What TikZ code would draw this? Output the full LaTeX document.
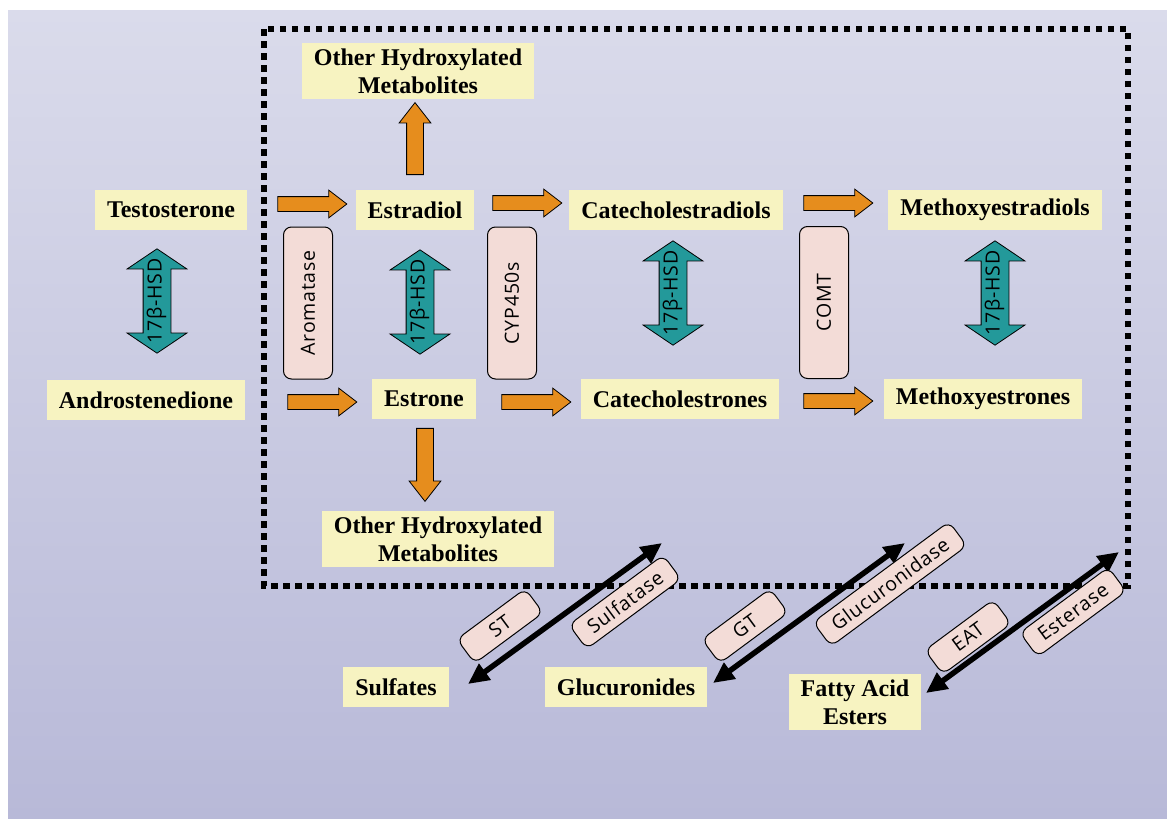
\documentclass[tikz,border=0pt]{standalone}
\usepackage{fontspec}
\setmainfont{Liberation Serif}
\newfontfamily\enzfont[LetterSpace=4]{Open Sans}
\usepackage{xcolor}
\usepackage{tikz}
\usetikzlibrary{arrows.meta,shapes.arrows}
\definecolor{BGTop}{HTML}{DADBEB}
\definecolor{BGBottom}{HTML}{B8B9D8}
\definecolor{MetYellow}{HTML}{F7F3C1}
\definecolor{EnzPink}{HTML}{F3DCD7}
\definecolor{HsdTeal}{HTML}{23999A}
\definecolor{FlowOrange}{HTML}{E68D1D}
\tikzset{
  metab/.style={fill=MetYellow, inner xsep=12pt, inner ysep=6pt, minimum height=40pt,
    font=\fontsize{24}{28}\selectfont\bfseries, align=center},
  enzyme/.style={draw, line width=1pt, fill=EnzPink, rounded corners=8pt,
    font=\enzfont\fontsize{19.5}{22}\selectfont, inner xsep=14pt},
  enzvert/.style={enzyme, rotate=90, minimum width=152pt, minimum height=49pt},
  enzdiag/.style={enzyme, rotate=36.5, minimum width=85pt, minimum height=30pt},
  flow/.style={single arrow, draw, line width=0.8pt, fill=FlowOrange, inner xsep=0pt,
    inner ysep=7pt, single arrow head extend=6.5pt, single arrow tip angle=75,
    minimum width=27pt, minimum height=69pt},
  flowvert/.style={flow, inner ysep=8pt, single arrow head extend=7.5pt,
    single arrow tip angle=76, minimum width=31pt},
  hsd/.style={double arrow, draw, line width=0.8pt, fill=HsdTeal, rotate=90,
    font=\enzfont\fontsize{19.5}{22}\selectfont, inner xsep=0pt, inner ysep=6pt,
    text height=12pt, text depth=3pt, minimum height=100pt, minimum width=59pt,
    double arrow head extend=16pt, double arrow tip angle=112},
  conj/.style={line width=5.5pt, {Triangle[length=21pt,width=19pt]}-{Triangle[length=21pt,width=19pt]}}
}
\begin{document}
\begin{tikzpicture}[x=1pt, y=-1pt]
\useasboundingbox (0,0) rectangle (1167,819);
\fill[white] (0,0) rectangle (1167,819);
\shade[top color=BGTop, bottom color=BGBottom] (8,10) rectangle (1167,819);

% dotted frame round the estrogen metabolism
\draw[line width=6.5pt, dash pattern=on 6.5pt off 5.5pt] (264,29) rectangle (1128,586);

% metabolites
\node[metab] (testo) at (171,210) {Testosterone};
\node[metab] (andro) at (146,400) {Androstenedione};
\node[metab] (estradiol) at (415,210) {Estradiol};
\node[metab] (estrone) at (424,399) {Estrone};
\node[metab] (ohmtop) at (418,71) {Other Hydroxylated\\Metabolites};
\node[metab] (ohmbot) at (438,539) {Other Hydroxylated\\Metabolites};
\node[metab] (catE2) at (676,210) {Catecholestradiols};
\node[metab] (catE1) at (680,399) {Catecholestrones};
\node[metab] (meoE2) at (995,210) {Methoxyestradiols};
\node[metab] (meoE1) at (983,399) {Methoxyestrones};
\node[metab] (sulf) at (396,687) {Sulfates};
\node[metab] (gluc) at (626,687) {Glucuronides};
\node[metab] (fae) at (855,702) {Fatty Acid\\Esters};

% orange steps
\node[flow] (aro1) at (307.5,204) {};
\node[flow] (aro2) at (317.5,402) {};
\node[flow] (cyp1) at (522.5,203) {};
\node[flow] (cyp2) at (531.5,402) {};
\node[flow] (comt1) at (833.5,203) {};
\node[flow] (comt2) at (833.5,401) {};
\node[flowvert, rotate=90, minimum height=72pt] (hydup) at (415,144) {};
\node[flowvert, rotate=-90, minimum height=73pt] (hyddown) at (425,459.5) {};

% enzymes
\node[enzvert] (aromatase) at (308,303) {Aromatase};
\node[enzvert] (cyp) at (512,303) {CYP450s};
\node[enzvert] (comt) at (824,302.5) {COMT};

% 17beta-HSD
\node[hsd] (hsdA) at (157,301) {17β-HSD};
\node[hsd] (hsdB) at (420,302) {17β-HSD};
\node[hsd] (hsdC) at (673,293) {17β-HSD};
\node[hsd] (hsdD) at (995,293) {17β-HSD};

% conjugation
\coordinate (sulfin) at (468,684);
\coordinate (sulfout) at (662,543);
\coordinate (glucin) at (713,683);
\coordinate (glucout) at (905,543);
\coordinate (faein) at (926,693);
\coordinate (faeout) at (1119,552);
\draw[conj] (sulfin) -- (sulfout);
\draw[conj] (glucin) -- (glucout);
\draw[conj] (faein) -- (faeout);

\node[enzdiag] (st) at (500,626) {ST};
\node[enzdiag] (sulfatase) at (625,602) {Sulfatase};
\node[enzdiag] (gt) at (745,626) {GT};
\node[enzdiag] (glucuronidase) at (890,584) {Glucuronidase};
\node[enzdiag] (eat) at (968,637) {EAT};
\node[enzdiag] (esterase) at (1073,612) {Esterase};
\end{tikzpicture}
\end{document}
